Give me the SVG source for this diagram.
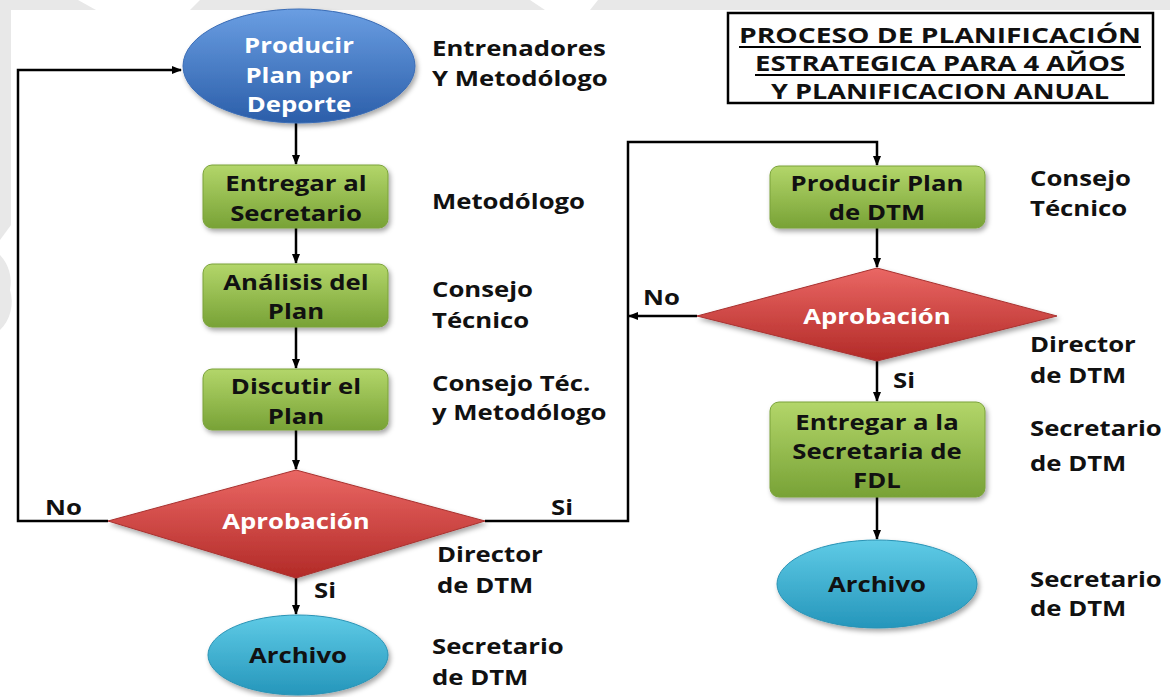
<svg xmlns="http://www.w3.org/2000/svg" width="1170" height="697" viewBox="0 0 1170 697">
<defs>
<linearGradient id="gBlue" x1="0" y1="0" x2="0" y2="1"><stop offset="0" stop-color="#6a9ee2"/><stop offset="1" stop-color="#2b5ea9"/></linearGradient>
<linearGradient id="gGreen" x1="0" y1="0" x2="0" y2="1"><stop offset="0" stop-color="#b3d66a"/><stop offset="1" stop-color="#78a236"/></linearGradient>
<linearGradient id="gRed" x1="0" y1="0" x2="0" y2="1"><stop offset="0" stop-color="#ea6764"/><stop offset="1" stop-color="#b22a27"/></linearGradient>
<linearGradient id="gCyan" x1="0" y1="0" x2="0" y2="1"><stop offset="0" stop-color="#5fcbe6"/><stop offset="1" stop-color="#2596bb"/></linearGradient>
<filter id="sh" x="-10%" y="-10%" width="125%" height="130%"><feDropShadow dx="2" dy="3" stdDeviation="2.5" flood-color="#000" flood-opacity="0.35"/></filter>
<marker id="arr" markerWidth="10" markerHeight="10" refX="9" refY="5" orient="auto" markerUnits="userSpaceOnUse"><path d="M0,1 L10,5 L0,9 Z" fill="#000"/></marker>
</defs>
<style>
.t{font-family:"Open Sans","Liberation Sans",sans-serif;font-weight:700;font-size:22px;fill:#111;transform-box:fill-box;transform-origin:left center;transform:scaleX(1.17)}
.c{text-anchor:middle;transform-origin:center center}
.w{fill:#fff}
.title{font-size:21px;transform:none}
.conn path{fill:none;stroke:#000;stroke-width:2.5}
.box{fill:url(#gGreen);stroke:#7aa23a;stroke-width:1;filter:url(#sh)}
</style>
<rect width="1170" height="697" fill="#fff"/>
<g id="watermark" fill="#e8e8e8">
<polygon points="0,0 78,0 96,10 0,10"/>
<polygon points="200,0 530,0 545,10 190,10"/>
<polygon points="598,0 1170,0 1170,10 590,10"/>
<polygon points="0,0 11,0 11,225 0,240"/>
<path d="M0,255 A40,40 0 0 1 10,290 A40,40 0 0 1 0,330 Z"/>
</g>
<g class="conn">
<path d="M108,521 H18 V70 H181" marker-end="url(#arr)"/>
<path d="M296,123 V164" marker-end="url(#arr)"/>
<path d="M296,228 V263" marker-end="url(#arr)"/>
<path d="M296,327 V368" marker-end="url(#arr)"/>
<path d="M296,430 V469" marker-end="url(#arr)"/>
<path d="M296,578 V614" marker-end="url(#arr)"/>
<path d="M485,521 H628 V142 H877 V165" marker-end="url(#arr)"/>
<path d="M877,228 V267" marker-end="url(#arr)"/>
<path d="M697,316 H629" marker-end="url(#arr)"/>
<path d="M877,361 V401" marker-end="url(#arr)"/>
<path d="M877,497 V539" marker-end="url(#arr)"/>
</g>
<g id="title">
<rect x="728" y="13" width="425" height="90" fill="#fff" stroke="#000" stroke-width="2.5"/>
<text class="t title c" x="940" y="43" textLength="402" lengthAdjust="spacingAndGlyphs">PROCESO DE PLANIFICACIÓN</text>
<text class="t title c" x="940" y="71" textLength="370" lengthAdjust="spacingAndGlyphs">ESTRATEGICA PARA 4 AЙOS</text>
<text class="t title c" x="940" y="99" textLength="338" lengthAdjust="spacingAndGlyphs">Y PLANIFICACION ANUAL</text>
<g stroke="#000" stroke-width="1.8"><line x1="739" y1="47" x2="1141" y2="47"/><line x1="755" y1="75" x2="1125" y2="75"/><line x1="771" y1="103" x2="1109" y2="103"/></g>
</g>
<g id="n_producir">
<ellipse cx="299" cy="66" rx="116" ry="57" fill="url(#gBlue)" stroke="#3a6cb5" stroke-width="1" filter="url(#sh)"/>
<text class="t c w" x="299" y="53">Producir</text>
<text class="t c w" x="299" y="83">Plan por</text>
<text class="t c w" x="299" y="112">Deporte</text>
</g>
<g id="l_entrenadores"><text class="t" x="432" y="56">Entrenadores</text><text class="t" x="432" y="86">Y Metodólogo</text></g>
<g id="n_entregar">
<rect class="box" x="203" y="165" width="185" height="63" rx="9"/>
<text class="t c" x="296" y="191">Entregar al</text>
<text class="t c" x="296" y="221">Secretario</text>
</g>
<g id="l_metodologo"><text class="t" x="432" y="209">Metodólogo</text></g>
<g id="n_analisis">
<rect class="box" x="203" y="264" width="185" height="63" rx="9"/>
<text class="t c" x="296" y="290">Análisis del</text>
<text class="t c" x="296" y="319">Plan</text>
</g>
<g id="l_consejo1"><text class="t" x="432" y="297">Consejo</text><text class="t" x="432" y="328">Técnico</text></g>
<g id="n_discutir">
<rect class="box" x="203" y="369" width="185" height="61" rx="9"/>
<text class="t c" x="296" y="394">Discutir el</text>
<text class="t c" x="296" y="424">Plan</text>
</g>
<g id="l_consejo2"><text class="t" x="432" y="391">Consejo Téc.</text><text class="t" x="432" y="420">y Metodólogo</text></g>
<g id="n_aprob1">
<polygon points="296,470 485,521 296,578 108,521" fill="url(#gRed)" stroke="#a83230" stroke-width="1" filter="url(#sh)"/>
<text class="t c w" x="296" y="529">Aprobación</text>
</g>
<text class="t" x="45" y="515">No</text>
<text class="t" x="551" y="515">Si</text>
<text class="t" x="314" y="598">Si</text>
<g id="l_director1"><text class="t" x="437" y="562">Director</text><text class="t" x="437" y="593">de DTM</text></g>
<g id="n_archivo1">
<ellipse cx="298" cy="655" rx="90" ry="40" fill="url(#gCyan)" stroke="#2a93b5" stroke-width="1" filter="url(#sh)"/>
<text class="t c" x="298" y="663">Archivo</text>
</g>
<g id="l_secretario1"><text class="t" x="432" y="654">Secretario</text><text class="t" x="432" y="685">de DTM</text></g>
<g id="n_producir_dtm">
<rect class="box" x="770" y="166" width="215" height="62" rx="9"/>
<text class="t c" x="877" y="191">Producir Plan</text>
<text class="t c" x="877" y="220">de DTM</text>
</g>
<g id="l_consejo3"><text class="t" x="1030" y="186">Consejo</text><text class="t" x="1030" y="216">Técnico</text></g>
<g id="n_aprob2">
<polygon points="877,268 1057,316 877,361 697,316" fill="url(#gRed)" stroke="#a83230" stroke-width="1" filter="url(#sh)"/>
<text class="t c w" x="877" y="324">Aprobación</text>
</g>
<text class="t" x="643" y="305">No</text>
<text class="t" x="893" y="388">Si</text>
<g id="l_director2"><text class="t" x="1030" y="352">Director</text><text class="t" x="1030" y="383">de DTM</text></g>
<g id="n_entregar_fdl">
<rect class="box" x="770" y="402" width="215" height="95" rx="9"/>
<text class="t c" x="877" y="430">Entregar a la</text>
<text class="t c" x="877" y="459">Secretaria de</text>
<text class="t c" x="877" y="488">FDL</text>
</g>
<g id="l_secretario2"><text class="t" x="1030" y="436">Secretario</text><text class="t" x="1030" y="471">de DTM</text></g>
<g id="n_archivo2">
<ellipse cx="877" cy="584" rx="100" ry="44" fill="url(#gCyan)" stroke="#2a93b5" stroke-width="1" filter="url(#sh)"/>
<text class="t c" x="877" y="592">Archivo</text>
</g>
<g id="l_secretario3"><text class="t" x="1030" y="587">Secretario</text><text class="t" x="1030" y="616">de DTM</text></g>
</svg>
